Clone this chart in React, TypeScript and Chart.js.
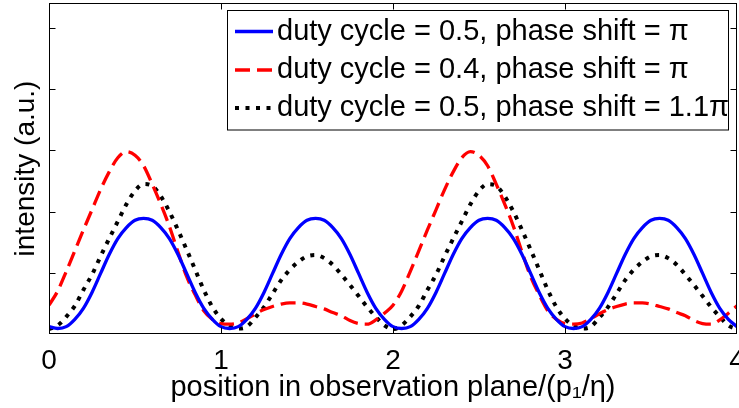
import React, { useEffect, useRef } from "react";
import { Chart, registerables } from "chart.js";

Chart.register(...registerables);

const FONT = "'Liberation Sans', Arial, Helvetica, sans-serif";

// x positions in observation plane (units of p1/eta)
const xValues = [
  0, 0.05, 0.1, 0.15, 0.2, 0.25, 0.3, 0.35, 0.4, 0.45,
  0.5, 0.55, 0.6, 0.65, 0.7, 0.75, 0.8, 0.85, 0.9, 0.95,
  1, 1.05, 1.1, 1.15, 1.2, 1.25, 1.3, 1.35, 1.4, 1.45,
  1.5, 1.55, 1.6, 1.65, 1.7, 1.75, 1.8, 1.85, 1.9, 1.95,
  2, 2.05, 2.1, 2.15, 2.2, 2.25, 2.3, 2.35, 2.4, 2.45,
  2.5, 2.55, 2.6, 2.65, 2.7, 2.75, 2.8, 2.85, 2.9, 2.95,
  3, 3.05, 3.1, 3.15, 3.2, 3.25, 3.3, 3.35, 3.4, 3.45,
  3.5, 3.55, 3.6, 3.65, 3.7, 3.75, 3.8, 3.85, 3.9, 3.95,
  4,
];

// duty cycle = 0.5, phase shift = pi
const blueSeries = [
  0.12, 0.09, 0.12, 0.24, 0.42, 0.68, 0.99, 1.30, 1.56, 1.74,
  1.86, 1.89, 1.86, 1.74, 1.56, 1.30, 0.99, 0.68, 0.42, 0.24,
  0.12, 0.09, 0.12, 0.24, 0.42, 0.68, 0.99, 1.30, 1.56, 1.74,
  1.86, 1.89, 1.86, 1.74, 1.56, 1.30, 0.99, 0.68, 0.42, 0.24,
  0.12, 0.09, 0.12, 0.24, 0.42, 0.68, 0.99, 1.30, 1.56, 1.74,
  1.86, 1.89, 1.86, 1.74, 1.56, 1.30, 0.99, 0.68, 0.42, 0.24,
  0.12, 0.09, 0.12, 0.24, 0.42, 0.68, 0.99, 1.30, 1.56, 1.74,
  1.86, 1.89, 1.86, 1.74, 1.56, 1.30, 0.99, 0.68, 0.42, 0.24,
  0.12,
];

// duty cycle = 0.4, phase shift = pi
const redSeries = [
  0.47, 0.70, 1.02, 1.36, 1.70, 2.03, 2.36, 2.65, 2.88, 2.98,
  2.92, 2.75, 2.45, 2.12, 1.76, 1.34, 0.94, 0.64, 0.38, 0.24,
  0.17, 0.16, 0.18, 0.25, 0.33, 0.40, 0.45, 0.49, 0.51, 0.51,
  0.49, 0.45, 0.41, 0.35, 0.30, 0.22, 0.17, 0.16, 0.23, 0.34,
  0.47, 0.70, 1.02, 1.36, 1.70, 2.03, 2.36, 2.65, 2.88, 2.98,
  2.92, 2.75, 2.45, 2.12, 1.76, 1.34, 0.94, 0.64, 0.38, 0.24,
  0.17, 0.16, 0.18, 0.25, 0.33, 0.40, 0.45, 0.49, 0.51, 0.51,
  0.49, 0.45, 0.41, 0.35, 0.30, 0.22, 0.17, 0.16, 0.23, 0.34,
  0.46,
];

// duty cycle = 0.5, phase shift = 1.1 pi
const blackSeries = [
  0.08, 0.14, 0.28, 0.46, 0.72, 0.97, 1.27, 1.56, 1.84, 2.12,
  2.34, 2.45, 2.42, 2.25, 2.00, 1.70, 1.38, 1.05, 0.72, 0.44,
  0.25, 0.13, 0.09, 0.12, 0.27, 0.44, 0.66, 0.88, 1.05, 1.18,
  1.27, 1.29, 1.24, 1.13, 0.97, 0.80, 0.62, 0.44, 0.28, 0.14,
  0.08, 0.14, 0.28, 0.46, 0.72, 0.97, 1.27, 1.56, 1.84, 2.12,
  2.34, 2.45, 2.42, 2.25, 2.00, 1.70, 1.38, 1.05, 0.72, 0.44,
  0.25, 0.13, 0.09, 0.12, 0.27, 0.44, 0.66, 0.88, 1.05, 1.18,
  1.27, 1.29, 1.24, 1.13, 0.97, 0.80, 0.62, 0.44, 0.28, 0.14,
  0.08,
];

const seriesLabels = [
  "duty cycle = 0.5, phase shift = π",
  "duty cycle = 0.4, phase shift = π",
  "duty cycle = 0.5, phase shift = 1.1π",
];

const xTicks = [0, 1, 2, 3, 4];
const yTicks = [0, 1, 2, 3, 4, 5];
const xTitle = "position in observation plane/(p₁/η)";
const yTitle = "intensity (a.u.)";

const framePlugin = {
  id: "frameTicks",
  afterDraw(chart: any) {
    const { ctx, chartArea, scales } = chart;
    const { left, right, top, bottom } = chartArea;
    const xs = scales.x;
    const ys = scales.y;
    const L = Math.round(left) + 0.5;
    const R = Math.round(right) - 0.5;
    const T = Math.round(top) + 0.5;
    const B = Math.round(bottom) - 0.5;
    const tl = 6;
    ctx.save();
    ctx.setLineDash([]);
    ctx.strokeStyle = "#000";
    ctx.lineWidth = 1;
    ctx.beginPath();
    xTicks.forEach((v) => {
      const p = Math.round(xs.getPixelForValue(v)) + 0.5;
      if (p <= L + 1 || p >= R - 1) return;
      ctx.moveTo(p, B);
      ctx.lineTo(p, B - tl);
      ctx.moveTo(p, T);
      ctx.lineTo(p, T + tl);
    });
    yTicks.forEach((v) => {
      const p = Math.round(ys.getPixelForValue(v)) + 0.5;
      if (p <= T + 1 || p >= B - 1) return;
      ctx.moveTo(L, p);
      ctx.lineTo(L + tl, p);
      ctx.moveTo(R, p);
      ctx.lineTo(R - tl, p);
    });
    ctx.stroke();
    ctx.strokeRect(L, T, R - L, B - T);
    ctx.restore();
  },
};

const legendPlugin = {
  id: "boxLegend",
  afterDraw(chart: any) {
    const { ctx } = chart;
    const bx = 227.5;
    const by = 10.5;
    const bw = 501;
    const bh = 119.5;
    ctx.save();
    ctx.fillStyle = "#fff";
    ctx.fillRect(bx, by, bw, bh);
    ctx.strokeStyle = "#000";
    ctx.lineWidth = 1;
    ctx.setLineDash([]);
    ctx.strokeRect(bx, by, bw, bh);
    const rows = [31.5, 70, 108];
    chart.data.datasets.forEach((ds: any, i: number) => {
      const y = rows[i];
      ctx.beginPath();
      ctx.strokeStyle = ds.borderColor;
      ctx.lineWidth = ds.borderWidth;
      ctx.setLineDash(ds.borderDash || []);
      ctx.lineCap = "butt";
      ctx.moveTo(235, y);
      ctx.lineTo(273, y);
      ctx.stroke();
      ctx.setLineDash([]);
      ctx.fillStyle = "#000";
      ctx.font = `29px ${FONT}`;
      ctx.textBaseline = "middle";
      ctx.textAlign = "left";
      ctx.fillText(ds.label, 277, y);
    });
    ctx.restore();
  },
};

export default function App() {
  const canvasRef = useRef<HTMLCanvasElement | null>(null);

  useEffect(() => {
    const canvas = canvasRef.current;
    if (!canvas) return;
    const mk = (arr: number[]) => xValues.map((x, i) => ({ x, y: arr[i] }));
    const chart = new Chart(canvas, {
      type: "line",
      data: {
        datasets: [
          {
            label: seriesLabels[0],
            data: mk(blueSeries),
            borderColor: "#0000ff",
            borderWidth: 3.3,
            pointRadius: 0,
            cubicInterpolationMode: "monotone",
            fill: false,
          },
          {
            label: seriesLabels[1],
            data: mk(redSeries),
            borderColor: "#ff0000",
            borderWidth: 3.3,
            borderDash: [15, 7],
            pointRadius: 0,
            cubicInterpolationMode: "monotone",
            fill: false,
          },
          {
            label: seriesLabels[2],
            data: mk(blackSeries),
            borderColor: "#000000",
            borderWidth: 4,
            borderDash: [4, 6.5],
            pointRadius: 0,
            cubicInterpolationMode: "monotone",
            fill: false,
          },
        ],
      } as any,
      options: {
        animation: false,
        responsive: false,
        maintainAspectRatio: false,
        devicePixelRatio: 1,
        layout: { padding: { top: 3, right: 2, left: 0, bottom: 0 } },
        plugins: {
          legend: { display: false },
          tooltip: { enabled: false },
        },
        scales: {
          x: {
            type: "linear",
            min: 0,
            max: 4,
            afterBuildTicks(s: any) {
              s.ticks = xTicks.map((v) => ({ value: v }));
            },
            afterFit(s: any) {
              s.height = 74;
              s.paddingLeft = 0;
              s.paddingRight = 0;
            },
            grid: { display: false },
            border: { display: false },
            ticks: {
              color: "#000",
              font: { family: FONT, size: 28 },
              padding: 2,
              maxRotation: 0,
              autoSkip: false,
              callback: (v: any) => String(v),
            },
            title: {
              display: true,
              text: xTitle,
              color: "#000",
              font: { family: FONT, size: 29 },
              padding: { top: 0, bottom: 3 },
            },
          },
          y: {
            type: "linear",
            min: 0,
            max: 5.41,
            afterBuildTicks(s: any) {
              s.ticks = yTicks.map((v) => ({ value: v }));
            },
            afterFit(s: any) {
              s.width = 49;
              s.paddingTop = 0;
              s.paddingBottom = 0;
            },
            grid: { display: false },
            border: { display: false },
            ticks: { display: false },
            title: {
              display: true,
              text: yTitle,
              color: "#000",
              font: { family: FONT, size: 28 },
              padding: { top: 9, bottom: 0 },
            },
          },
        },
      } as any,
      plugins: [framePlugin, legendPlugin],
    });
    return () => chart.destroy();
  }, []);

  return (
    <div
      style={{
        position: "fixed",
        left: 0,
        top: 0,
        width: 739,
        height: 408,
        background: "#fff",
      }}
    >
      <canvas ref={canvasRef} width={739} height={408} style={{ display: "block" }} />
    </div>
  );
}
